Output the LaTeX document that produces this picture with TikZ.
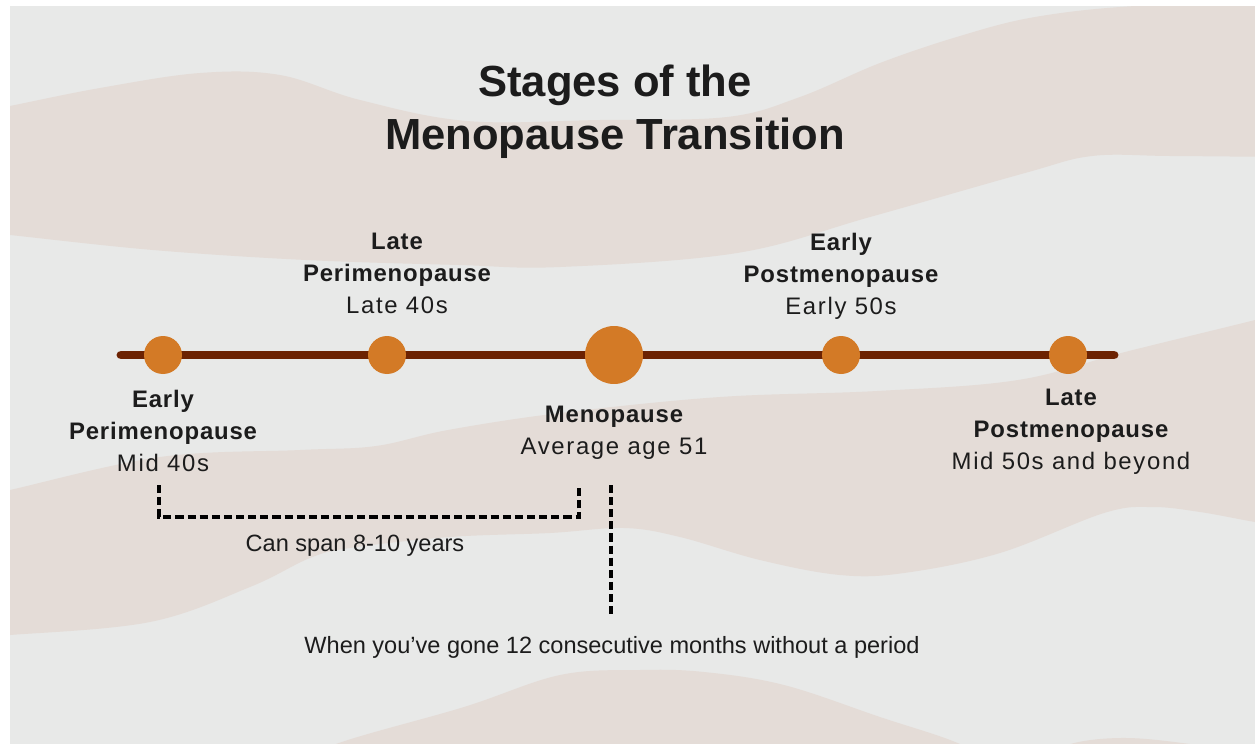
\documentclass[tikz,border=0pt]{standalone}
\usepackage{fontspec}
\setmainfont{Liberation Sans}
\newfontfamily\agefont[LetterSpace=7]{Liberation Sans}
\newfontfamily\namefont[LetterSpace=3.5]{Liberation Sans}
\usepackage{tikz}
\usetikzlibrary{positioning}

\definecolor{bggray}{RGB}{232,233,232}
\definecolor{sand}{RGB}{228,220,215}
\definecolor{rust}{RGB}{108,34,2}
\definecolor{amber}{RGB}{211,122,38}
\definecolor{ink}{RGB}{28,28,28}

\newcommand{\stagename}[3]{{\namefont\bfseries #1}\\{\namefont\bfseries #2}\\{\agefont #3}}

\begin{document}
\begin{tikzpicture}[x=0.02cm, y=-0.02cm,
    dot/.style={circle, fill=amber, inner sep=0pt, minimum size=0.76cm},
    bigdot/.style={dot, minimum size=1.16cm},
    timeline/.style={rust, line width=5.1pt, line cap=round},
    stage/.style={align=center, inner sep=0pt, text=ink, font=\fontsize{13.6}{18.2}\selectfont},
    note/.style={inner sep=0pt, text=ink, font=\fontsize{13.4}{16}\selectfont},
    heading/.style={align=center, inner sep=0pt, text=ink, font=\bfseries\fontsize{24.8}{30.2}\selectfont},
    guide/.style={black, line width=1.75pt, dash pattern=on 4.6pt off 2.3pt}]
    \useasboundingbox (0,0) rectangle (1255,744);

    % Fonas
    \fill[white] (0,0) rectangle (1255,744);
    \fill[bggray] (10,6) rectangle (1255,744);
    \begin{scope}
        \clip (10,6) rectangle (1255,744);
        \fill[sand] plot[smooth, tension=0.6] coordinates {(-20,112) (10,106) (100,88) (200,73) (280,75) (360,100) (467,121) (600,120) (727,117) (800,97) (880,63) (960,36) (1035,17) (1135,6) (1280,2)}
            -- plot[smooth, tension=0.6] coordinates {(1280,157) (1170,156) (1092,156) (1025,173) (870,217) (737,253) (560,267) (459,265) (306,260) (153,250) (10,235) (-20,232)} -- cycle;
        \fill[sand] plot[smooth, tension=0.6] coordinates {(-20,497) (10,490) (160,457) (300,450) (376,446) (448,430) (560,413) (720,397) (877,391) (1018,380) (1125,352) (1255,320) (1290,310)}
            -- plot[smooth, tension=0.6] coordinates {(1290,527) (1255,522) (1200,512) (1152,507) (1104,513) (1000,553) (904,573) (840,575) (760,560) (680,537) (624,528) (550,533) (450,537) (350,548) (310,558) (250,587) (150,622) (10,635) (-20,636)} -- cycle;
        \fill[sand] plot[smooth, tension=0.6] coordinates {(290,770) (336,744) (464,707) (560,675) (640,670) (704,672) (784,685) (880,717) (960,744) (1000,770)} -- cycle;
        \fill[sand] plot[smooth, tension=0.6] coordinates {(1030,770) (1064,746) (1120,738) (1190,744) (1290,760)} -- cycle;
    \end{scope}

    % Pavadinimas
    \node[heading] (title) at (615,112) {Stages of the\\Menopause Transition};

    % Laiko ašis
    \coordinate (tl0) at (121,355);
    \coordinate (tl1) at (1114,355);
    \draw[timeline] (tl0) -- (tl1);
    \foreach \n/\x in {epm/163, lpm/387, epo/841, lpo/1068} {\node[dot] (\n) at (\x,355) {};}
    \node[bigdot] (meno) at (614,355) {};

    % Etapai
    \node[stage, below=0.31cm of epm] (epmtext) {\stagename{Early}{Perimenopause}{Mid 40s}};
    \node[stage, above=0.44cm of lpm, xshift=0.2cm] (lpmtext) {\stagename{Late}{Perimenopause}{Late 40s}};
    \node[stage, below=0.42cm of meno] (menotext) {{\namefont\bfseries Menopause}\\{\agefont Average age 51}};
    \node[stage, above=0.32cm of epo] (epotext) {\stagename{Early}{Postmenopause}{Early 50s}};
    \node[stage, below=0.28cm of lpo, xshift=0.06cm] (lpotext) {\stagename{Late}{Postmenopause}{Mid 50s and beyond}};

    % Brūkšninės linijos
    \coordinate (spanA) at (159,485);
    \coordinate (spanB) at (579,485);
    \draw[guide] (spanA) -- ++(0,32) -| (spanB);
    \node[note] (spannote) at (355,546) {Can span 8-10 years};

    \coordinate (menoA) at (611,485);
    \coordinate (menoB) at (611,618);
    \draw[guide] (menoA) -- (menoB);
    \node[note] (menonote) at (612,647) {When you’ve gone 12 consecutive months without a period};
\end{tikzpicture}
\end{document}
